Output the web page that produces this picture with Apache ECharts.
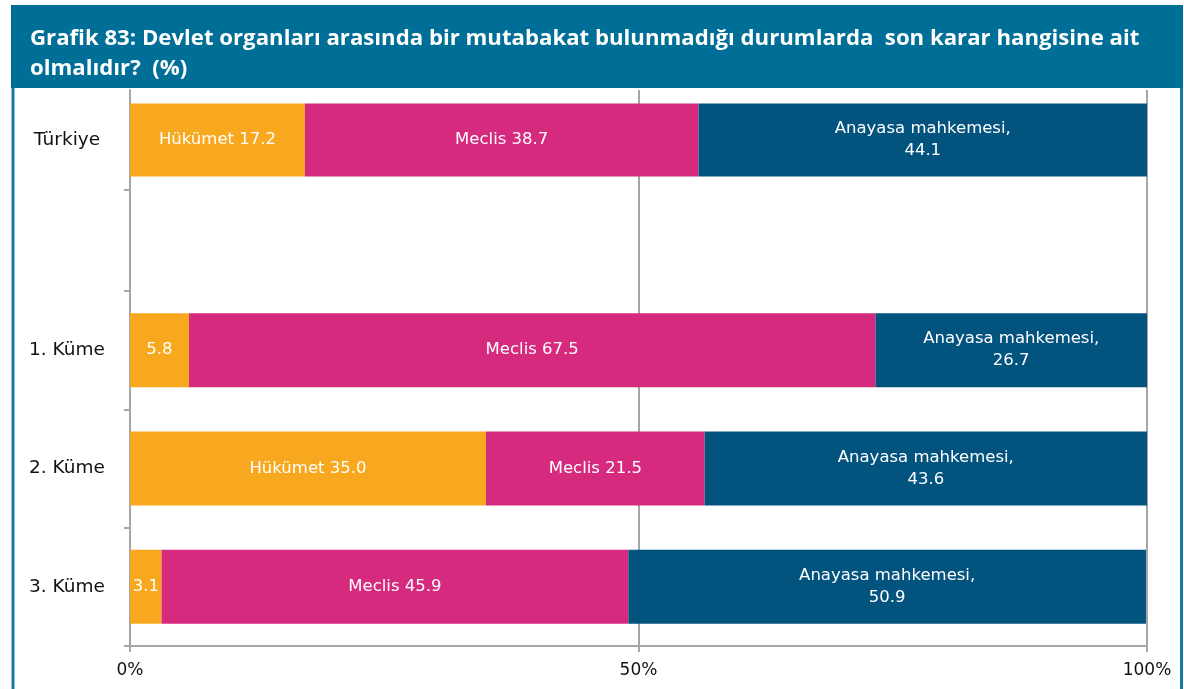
<!DOCTYPE html>
<html>
<head>
<meta charset="utf-8">
<script src="https://cdn.jsdelivr.net/npm/echarts@6/dist/echarts.min.js"></script>
<style>
  html, body { margin: 0; padding: 0; background: #ffffff; }
  #chart { width: 1184px; height: 689px; }
</style>
</head>
<body>
<div id="chart"></div>
<script>
// National row, an empty spacer row, then the three clusters
const topCategories = ['Türkiye'];
const spacerCategories = [''];
const clusterCategories = ['1. Küme', '2. Küme', '3. Küme'];

// Shares (%) in category order: Türkiye, 1. Küme, 2. Küme, 3. Küme
const hukumet = [17.2, 5.8, 35.0, 3.1];
const meclis = [38.7, 67.5, 21.5, 45.9];
const anayasa = [44.1, 26.7, 43.6, 50.9];

const xTicks = [0, 50, 100];

const seriesNames = ['Hükümet', 'Meclis', 'Anayasa mahkemesi'];
const colors = ['#F7A81E', '#D62A7E', '#03537F'];

const FONT = '"DejaVu Sans", Verdana, sans-serif';
const AXIS_GRAY = '#A6A6A6';

const chart = echarts.init(document.getElementById('chart'), null, { renderer: 'canvas' });

function labelFor(idx) {
  return function (p) {
    const v = p.value.toFixed(1);
    if (idx === 0) return p.value < 10 ? v : 'Hükümet ' + v;
    if (idx === 1) return 'Meclis ' + v;
    return 'Anayasa mahkemesi,\n' + v;
  };
}

const barLabel = function (i) {
  return {
    show: true, position: 'inside', color: '#ffffff',
    fontFamily: FONT, fontSize: 16.5, lineHeight: 22,
    formatter: labelFor(i)
  };
};

const allValues = [hukumet, meclis, anayasa];
const series = [];
allValues.forEach(function (vals, i) {
  // national row
  series.push({
    name: seriesNames[i],
    type: 'bar',
    stack: 'top',
    xAxisIndex: 0,
    yAxisIndex: 0,
    barWidth: 73,
    itemStyle: { color: colors[i] },
    label: barLabel(i),
    data: [vals[0]]
  });
  // clusters
  series.push({
    name: seriesNames[i],
    type: 'bar',
    stack: 'clusters',
    xAxisIndex: 2,
    yAxisIndex: 2,
    barWidth: 74,
    itemStyle: { color: colors[i] },
    label: barLabel(i),
    data: vals.slice(1)
  });
});

const valueAxisBase = {
  type: 'value',
  min: 0,
  max: 100,
  interval: 50,
  splitLine: { show: true, lineStyle: { color: AXIS_GRAY, width: 2 } }
};

const hiddenValueAxis = function (g) {
  return Object.assign({}, valueAxisBase, {
    gridIndex: g,
    axisLine: { show: false },
    axisTick: { show: false },
    axisLabel: { show: false }
  });
};

const tickStyle = { show: true, length: 6, lineStyle: { color: AXIS_GRAY, width: 2 } };

const categoryAxisBase = {
  type: 'category',
  inverse: true,
  axisLine: { show: true, lineStyle: { color: AXIS_GRAY, width: 2 } },
  axisTick: tickStyle,
  axisLabel: {
    color: '#111111', fontFamily: FONT, fontSize: 18.5,
    align: 'center', margin: 63
  }
};

chart.setOption({
  animation: false,
  backgroundColor: '#ffffff',
  title: {
    text: 'Grafik 83: Devlet organları arasında bir mutabakat bulunmadığı durumlarda  son karar hangisine ait\nolmalıdır?  (%)',
    left: 25,
    top: 19,
    textStyle: {
      color: '#ffffff', fontFamily: '"Open Sans", sans-serif',
      fontWeight: 'bold', fontSize: 22.2, lineHeight: 30
    }
  },
  graphic: [
    {
      type: 'rect', z: -1,
      shape: { x: 11, y: 5, width: 1172, height: 83 },
      style: { fill: '#006F98' }
    },
    {
      type: 'line',
      shape: { x1: 13, y1: 88, x2: 13, y2: 689 },
      style: { stroke: '#1478A8', lineWidth: 3 }
    },
    {
      type: 'line',
      shape: { x1: 1181.5, y1: 88, x2: 1181.5, y2: 689 },
      style: { stroke: '#1478A8', lineWidth: 3 }
    }
  ],
  grid: [
    { left: 130, width: 1017, top: 90, height: 100 },
    { left: 130, width: 1017, top: 190, height: 101 },
    { left: 130, width: 1017, top: 291, height: 355 }
  ],
  xAxis: [
    hiddenValueAxis(0),
    hiddenValueAxis(1),
    Object.assign({}, valueAxisBase, {
      gridIndex: 2,
      axisLine: { show: true, lineStyle: { color: AXIS_GRAY, width: 2 } },
      axisTick: tickStyle,
      axisLabel: {
        color: '#111111', fontFamily: FONT, fontSize: 17, margin: 16,
        customValues: xTicks,
        formatter: function (v) { return v + '%'; }
      }
    })
  ],
  yAxis: [
    Object.assign({}, categoryAxisBase, {
      gridIndex: 0, data: topCategories, axisTick: { show: false }
    }),
    Object.assign({}, categoryAxisBase, { gridIndex: 1, data: spacerCategories }),
    Object.assign({}, categoryAxisBase, { gridIndex: 2, data: clusterCategories })
  ],
  series: series
});
</script>
</body>
</html>
